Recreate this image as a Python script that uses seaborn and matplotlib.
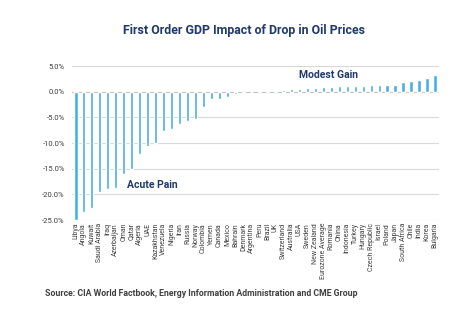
import matplotlib
matplotlib.use("Agg")
import matplotlib.pyplot as plt
import seaborn as sns
import pandas as pd
from matplotlib.ticker import FuncFormatter

countries = ["Libya", "Angola", "Kuwait", "Saudi Arabia", "Iraq", "Azerbaijan", "Oman", "Qatar",
             "Algeria", "UAE", "Kazakhstan", "Venezuela", "Nigeria", "Iran", "Russia", "Norway",
             "Colombia", "Yemen", "Canada", "Mexico", "Bahrain", "Denmark", "Argentina", "Peru",
             "Brazil", "UK", "Switzerland", "Australia", "USA", "Sweden", "New Zealand",
             "Eurozone Average", "Romania", "China", "Indonesia", "Turkey", "Hungary",
             "Czech Republic", "Israel", "Poland", "Japan", "South Africa", "Chile", "India",
             "Korea", "Bulgaria"]
impact = [-24.9, -23.5, -22.7, -19.5, -18.9, -18.8, -16.0, -15.0,
          -12.1, -10.6, -10.0, -7.6, -7.2, -6.3, -5.7, -5.3,
          -3.0, -1.4, -1.4, -1.0, -0.5, -0.3, -0.1, 0.05,
          0.1, 0.2, 0.4, 0.5, 0.6, 0.8, 0.8,
          0.9, 0.9, 1.1, 1.1, 1.2, 1.2,
          1.4, 1.4, 1.4, 1.4, 1.9, 2.0, 2.3,
          2.7, 3.2]
yticks = [5, 0, -5, -10, -15, -20, -25]

df = pd.DataFrame({"country": countries, "impact": impact})

sns.set_theme(style="white")
plt.rcParams["font.family"] = ["Roboto", "DejaVu Sans"]

fig = plt.figure(figsize=(4.64, 3.32), dpi=100)
ax = fig.add_axes([0.155, 0.337, 0.791, 0.464])

for t in yticks:
    ax.axhline(t, color="#d9d9d9" if t != 0 else "#bfbfbf", lw=0.8, zorder=0)

sns.barplot(data=df, x="country", y="impact", color="#4aaee6", saturation=1,
            width=0.4, ax=ax, zorder=2)

ax.set_ylim(-25, 5)
ax.set_yticks(yticks)
ax.yaxis.set_major_formatter(FuncFormatter(lambda v, p: f"{v:.1f}%".replace("\u2212", "-")))
ax.set_xlabel("")
ax.set_ylabel("")
for s in ax.spines.values():
    s.set_visible(False)
ax.tick_params(axis="y", labelsize=5.5, length=0, pad=5, colors="#404040")
ax.tick_params(axis="x", labelsize=5, length=0, pad=2, colors="#404040", rotation=90)

navy = "#1f3a6b"
ax.text(9.6, -18.2, "Acute Pain", color=navy, fontsize=7.5, fontweight="bold",
        ha="center", va="center")
ax.text(31.6, 3.3, "Modest Gain", color=navy, fontsize=7.5, fontweight="bold",
        ha="center", va="center")

fig.text(0.525, 0.908, "First Order GDP Impact of Drop in Oil Prices", color=navy,
         fontsize=8.9, fontweight="bold", ha="center", va="center")
fig.text(0.097, 0.115, "Source: CIA World Factbook, Energy Information Administration and CME Group",
         color="#404040", fontsize=6.3, fontweight="bold", ha="left", va="center")

fig.savefig("out.png", dpi=100)
